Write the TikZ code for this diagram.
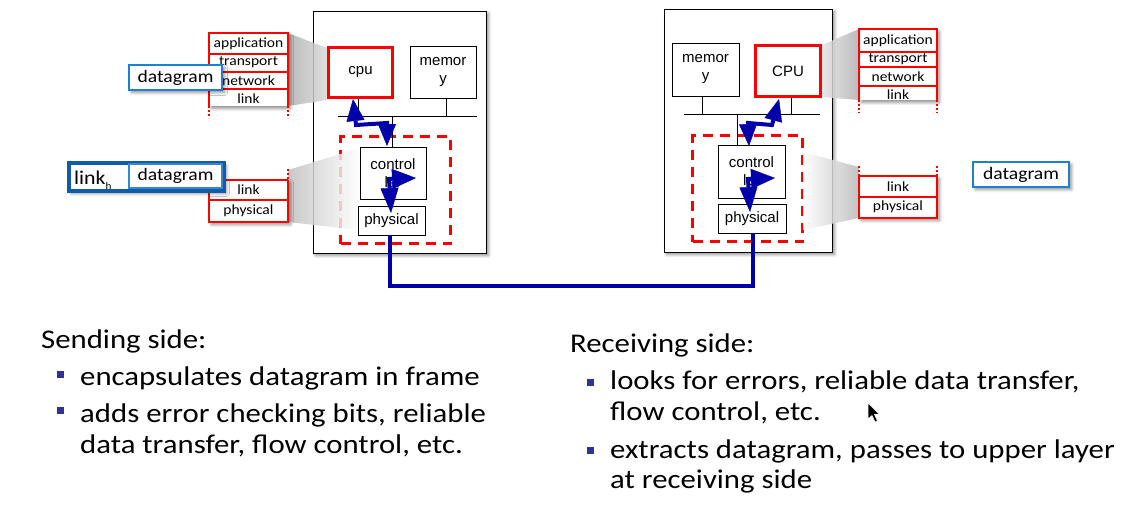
\documentclass[tikz,border=0pt]{standalone}
\usepackage{fontspec}
\setmainfont{Carlito}
\newfontfamily\bodyf[FakeStretch=1.14]{Carlito}
\newfontfamily\layf[FakeStretch=1.11]{Carlito}
\newfontfamily\dgf[FakeStretch=1.12]{Carlito}
\newfontfamily\arf{Liberation Sans}
\usetikzlibrary{arrows.meta,shadows.blur,calc}
\definecolor{bl}{HTML}{0000AA}
\definecolor{bulc}{HTML}{2F3399}
\definecolor{dgb}{HTML}{1F7FD0}
\definecolor{frb}{HTML}{0F5DAA}
\definecolor{frl}{HTML}{3A86CC}
\begin{document}
\begin{tikzpicture}[x=1pt,y=-1pt,
  shad/.style={blur shadow={shadow xshift=2.5pt,shadow yshift=-2.5pt,shadow blur steps=6,shadow blur radius=3pt,shadow opacity=45}},
  host/.style={draw=black,line width=1pt,fill=white,shad,inner sep=0pt},
  comp/.style={draw=black,line width=0.9pt,fill=white,inner sep=0pt,align=center,font=\arf\fontsize{15}{18}\selectfont},
  cpubox/.style={comp,draw=red,line width=3pt},
  rdash/.style={draw=red,line width=3pt,dash pattern=on 10pt off 7pt,inner sep=0pt},
  thinl/.style={draw=black,line width=0.9pt},
  redl/.style={draw=red,line width=1.1pt},
  redd/.style={draw=red,line width=1.1pt,dash pattern=on 2pt off 2pt},
  lay/.style={font=\layf\fontsize{14}{15}\selectfont,inner sep=0pt},
  dgbox/.style={draw=dgb,line width=1.3pt,fill=white,inner sep=0pt,font=\dgf\fontsize{17.5}{18}\selectfont,minimum width=93pt,minimum height=25pt},
  wire/.style={draw=bl,line width=4pt},
  barrow/.style={draw=bl,line width=4pt,
    {Triangle[length=22pt,width=18pt,line width=0.4pt]}-{Triangle[length=22pt,width=18pt,line width=0.4pt]}},
  barrowb/.style={draw=bl,line width=4pt,
    {Triangle[length=24pt,width=20pt,line width=0.4pt]}-{Triangle[length=25pt,width=18pt,line width=0.4pt]}},
  bsq/.style={fill=bulc,minimum size=6.5pt,inner sep=0pt},
  btxt/.style={anchor=base west,inner sep=0pt,font=\bodyf\fontsize{27}{31}\selectfont},
]
\useasboundingbox (0,0) rectangle (1136,520);

% ---------------- host boxes
\node[host,minimum width=173pt,minimum height=242pt] (hostL) at (399.5,132) {};
\node[host,minimum width=168pt,minimum height=243pt] (hostR) at (748,130.5) {};

% ---------------- buses
\coordinate (busL1) at (338,116);
\coordinate (busL2) at (477,116);
\coordinate (busR1) at (684,114);
\coordinate (busR2) at (820,114);
\coordinate (stubR) at (737,114);
\draw[thinl] (busL1) -- (busL2);
\draw[thinl] (busR1) -- (busR2);

% ---------------- dashed adapters
\node[rdash,minimum width=110pt,minimum height=107pt] (nicL) at (395.5,190) {};
\node[rdash,minimum width=110pt,minimum height=106pt] (nicR) at (747.5,188.5) {};

% ---------------- wedges (zoom callouts)
\shade[left color=gray!62,right color=gray!30,fill opacity=0.85] (288,33) -- (327,48) -- (327,100) -- (288,106) -- cycle;
\shade[left color=gray!50,right color=white,fill opacity=0.85] (288,170) -- (360,148) -- (360,230) -- (288,222) -- cycle;
\shade[left color=gray!22,right color=gray!62,fill opacity=0.85] (822,45) -- (859,29) -- (859,100) -- (822,97) -- cycle;
\shade[left color=white,right color=gray!55,fill opacity=0.85] (803,152) -- (859,167) -- (859,218) -- (803,230) -- cycle;

% ---------------- components left
\node[cpubox,minimum width=64pt,minimum height=50pt] (cpuL) at (360.5,72.5) {cpu};
\node[comp,minimum width=66pt,minimum height=52pt] (memL) at (443,72) {memor\\y};
\node[comp,minimum width=66pt,minimum height=52pt] (ctrlL) at (393,173) {control\\ler};
\node[comp,minimum width=67pt,minimum height=29pt] (physL) at (391.5,220.5) {physical};
\draw[thinl] ([xshift=-2pt]cpuL.south) -- ([xshift=-2pt]cpuL.south |- busL1);
\draw[thinl] ([xshift=3pt]memL.south) -- ([xshift=3pt]memL.south |- busL1);
\draw[thinl] ([xshift=-1pt]ctrlL.north) -- ([xshift=-1pt]ctrlL.north |- busL1);

% ---------------- components right
\node[comp,minimum width=67pt,minimum height=53pt] (memR) at (705.5,69.5) {memor\\y};
\node[cpubox,minimum width=65pt,minimum height=51pt] (cpuR) at (788,71) {CPU};
\node[comp,minimum width=67pt,minimum height=53pt] (ctrlR) at (751.5,171.5) {control\\ler};
\node[comp,minimum width=68pt,minimum height=29pt] (physR) at (752,218.5) {physical};
\draw[thinl] ([xshift=-3.5pt]memR.south) -- ([xshift=-3.5pt]memR.south |- busR1);
\draw[thinl] ([xshift=3pt]cpuR.south) -- ([xshift=3pt]cpuR.south |- busR1);
\draw[thinl] (ctrlR.north -| stubR) -- (stubR);

% ---------------- link wire
\coordinate (wb) at (570,286);
\draw[wire] ([xshift=-1.5pt]physL.south) |- (wb) -| ([xshift=1pt]physR.south);

% ---------------- blue arrows
\coordinate (a1) at (353,99);  \coordinate (a2) at (356,125);
\coordinate (a3) at (387,123); \coordinate (a4) at (387,146);
\draw[barrow] (a1) -- (a2) -- (a3) -- (a4);
\coordinate (b1) at (416,178); \coordinate (b2) at (389,179); \coordinate (b3) at (391,213);
\draw[barrowb] (b1) -- (b2) -- (b3);
\coordinate (c1) at (779,99);  \coordinate (c2) at (772,125);
\coordinate (c3) at (748,123); \coordinate (c4) at (749,146);
\draw[barrow] (c1) -- (c2) -- (c3) -- (c4);
\coordinate (d1) at (775,178); \coordinate (d2) at (748,179); \coordinate (d3) at (750,212);
\draw[barrowb] (d1) -- (d2) -- (d3);

% ---------------- protocol stack upper left
\fill[white,shad] (209,33) rectangle (288,106);
\draw[redl] (209,106) -- (209,33) -- (288,33) -- (288,106);
\draw[redd] (209,106) -- (209,118);
\draw[redd] (288,106) -- (288,118);
\draw[redl] (209,54) -- (288,54);
\draw[redl] (209,72) -- (288,72);
\draw[redl] (209,89) -- (288,89);
\node[lay] (sLa) at (248.5,43.5) {application};
\node[lay] (sLt) at (248.5,62.5) {transport};
\node[lay] (sLn) at (248.5,80.5) {network};
\node[lay] (sLl) at (248.5,98.5) {link};
\node[dgbox,shad] (dgL) at (175.5,77.5) {datagram};

% ---------------- protocol stack lower left
\fill[white,shad] (209,180) rectangle (288,222);
\draw[redd] (288,169) -- (288,180);
\draw[redl] (288,180) -- (288,222) -- (209,222) -- (209,180) -- (288,180);
\draw[redl] (209,200) -- (288,200);
\node[lay] (sLl2) at (248.5,190) {link};
\node[lay] (sLp2) at (248.5,210.5) {physical};

% ---------------- frame
\node[draw=frb,line width=3.5pt,fill=white,minimum width=155pt,minimum height=28pt,inner sep=0pt,shad] (frm) at (146.5,177) {};
\node[anchor=base west,inner sep=0pt,font=\dgf\fontsize{19.5}{20}\selectfont] (lnk) at (74,184.5) {link\raisebox{-5pt}{\fontsize{10}{10}\selectfont h}};
\node[dgbox,draw=frl,line width=1.8pt,minimum width=93pt,minimum height=24pt] (dgF) at (175.5,176) {datagram};

% ---------------- protocol stack upper right
\fill[white,shad] (859,29) rectangle (937,100);
\draw[redl] (859,100) -- (859,29) -- (937,29) -- (937,100);
\draw[redd] (859,100) -- (859,113);
\draw[redd] (937,100) -- (937,113);
\draw[redl] (859,52) -- (937,52);
\draw[redl] (859,67) -- (937,67);
\draw[redl] (859,86) -- (937,86);
\node[lay] (sRa) at (898,40.5) {application};
\node[lay] (sRt) at (898,59.5) {transport};
\node[lay] (sRn) at (898,77) {network};
\node[lay] (sRl) at (898,95) {link};

% ---------------- protocol stack lower right
\fill[white,shad] (859,176) rectangle (937,218);
\draw[redd] (859,166) -- (859,176);
\draw[redd] (937,166) -- (937,176);
\draw[redl] (859,176) rectangle (937,218);
\draw[redl] (859,197) -- (937,197);
\node[lay] (sRl2) at (898,186.5) {link};
\node[lay] (sRp2) at (898,207) {physical};

\node[dgbox,minimum width=96pt,shad] (dgR) at (1021,174.5) {datagram};

% ---------------- text
\node[btxt] (ts) at (41,348) {Sending side:};
\node[bsq] (bs1) at (60.5,374.5) {};
\node[btxt] (ts1) at (80,385) {encapsulates datagram in frame};
\node[bsq] (bs2) at (60.5,410.5) {};
\node[btxt] (ts2) at (80,422) {adds error checking bits, reliable};
\node[btxt] (ts3) at (80,453) {data transfer, flow control, etc.};

\node[btxt] (tr) at (570,352) {Receiving side:};
\node[bsq] (br1) at (590.5,382.5) {};
\node[btxt] (tr1) at (610,389) {looks for errors, reliable data transfer,};
\node[btxt] (tr2) at (610,420) {flow control, etc.};
\node[bsq] (br2) at (590.5,450.5) {};
\node[btxt] (tr3) at (610,458) {extracts datagram, passes to upper layer};
\node[btxt] (tr4) at (610,488) {at receiving side};

% ---------------- mouse pointer
\filldraw[fill=black,draw=white,line width=0.6pt] (868,403) -- (868,419) -- (872,415.5) -- (875,422) -- (877.5,421) -- (874.5,414.5) -- (879.5,414.5) -- cycle;
\end{tikzpicture}
\end{document}
